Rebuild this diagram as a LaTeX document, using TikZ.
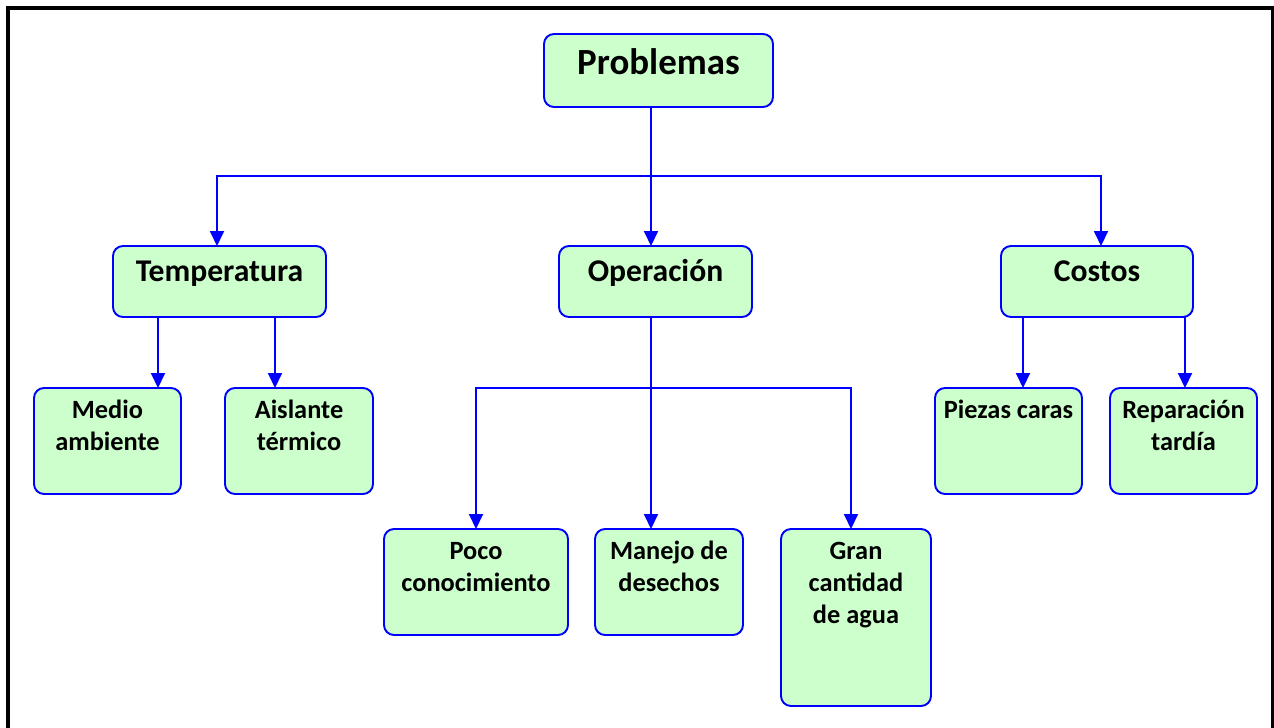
\documentclass[tikz,border=0pt]{standalone}
\usepackage{fontspec}
\setmainfont{Carlito}
\usepackage{tikz}
\usetikzlibrary{positioning}
\usetikzlibrary{arrows.meta}
\definecolor{boxgreen}{RGB}{204,255,204}
\definecolor{linkblue}{RGB}{0,0,255}

\begin{document}
\begin{tikzpicture}[
  box/.style={draw=linkblue, fill=boxgreen, line width=1.1pt, rounded corners=0.2cm, align=flush center, inner xsep=0.1cm, inner ysep=0.1cm, outer sep=0pt, font=\fontsize{15}{18.4}\selectfont\bfseries, text height=0.5cm},
  topbox/.style={box, font=\fontsize{21}{25}\selectfont\bfseries, text width=4.38cm, text height=0.7cm, text depth=0.56cm},
  headbox/.style={box, font=\fontsize{18}{21}\selectfont\bfseries, text height=0.6cm, text depth=0.62cm},
  leafbox/.style={box, text depth=1.42cm},
  link/.style={draw=linkblue, line width=1.1pt},
  arrowlink/.style={link, -{Triangle[length=0.3cm,width=0.28cm]}},
  frame/.style={draw=black, line width=1.8pt}
]
\useasboundingbox (0,0) rectangle (25.48,-14.54);

\node [topbox, anchor=north] (prob) at (13.17,-0.68) {Problemas};
\node [headbox, text width=3.66cm, below=2.78cm of prob, xshift=-0.06cm] (oper) {Operación};
\node [headbox, text width=4.06cm, left=4.66cm of oper] (temp) {Temperatura};
\node [headbox, text width=3.64cm, right=4.98cm of oper] (cost) {Costos};
\node [leafbox, text width=2.74cm, below=1.42cm of temp.south west, xshift=-0.11cm] (medio) {Medio\\ambiente};
\node [leafbox, text width=2.76cm, right=0.88cm of medio] (aisl) {Aislante\\térmico};
\node [leafbox, text width=2.74cm, below=1.42cm of cost.south west, xshift=0.15cm] (piez) {Piezas caras};
\node [leafbox, text width=2.74cm, right=0.56cm of piez] (repa) {Reparación\\tardía};
\node [leafbox, text width=2.76cm, below=4.24cm of oper, xshift=0.27cm] (mane) {Manejo de\\desechos};
\node [leafbox, text width=3.48cm, left=0.54cm of mane] (poco) {Poco\\conocimiento};
\node [leafbox, text width=2.8cm, text depth=2.84cm, right=0.76cm of mane.north east, anchor=north west] (gran) {Gran\\cantidad\\de agua};

% Problemas to the three groups
\coordinate (trunk) at (13.02,-3.52);
\draw [link] (trunk |- prob.south) -- (trunk);
\draw [arrowlink] (trunk) -| ([xshift=-0.05cm]temp.north);
\draw [arrowlink] (trunk) -- (trunk |- oper.north);
\draw [arrowlink] (trunk) -| ([xshift=0.08cm]cost.north);

% Temperatura
\coordinate (t1) at ([xshift=0.9cm]temp.south west);
\coordinate (t2) at ([xshift=-1.02cm]temp.south east);
\draw [arrowlink] (t1) -- (t1 |- medio.north);
\draw [arrowlink] (t2) -- (t2 |- aisl.north);

% Operacion
\coordinate (fork) at (trunk |- medio.north);
\draw [arrowlink] (trunk |- oper.south) -- (trunk |- mane.north);
\draw [arrowlink] (fork) -| (poco.north);
\draw [arrowlink] (fork) -| ([xshift=-0.1cm]gran.north);

% Costos
\coordinate (c1) at ([xshift=0.44cm]cost.south west);
\coordinate (c2) at ([xshift=-0.16cm]cost.south east);
\draw [arrowlink] (c1) -- (c1 |- piez.north);
\draw [arrowlink] (c2) -- (c2 |- repa.north);

\draw [frame] (0.16,-14.7) -- (0.16,-0.16) -- (25.45,-0.16) -- (25.45,-14.7);
\end{tikzpicture}
\end{document}
